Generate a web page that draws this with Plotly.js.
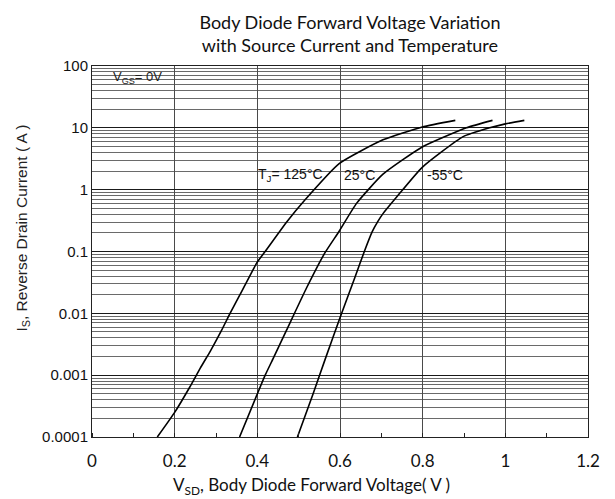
<!DOCTYPE html>
<html>
<head>
<meta charset="utf-8">
<script src="https://cdn.plot.ly/plotly-3.0.1.min.js"></script>
<style>html,body{margin:0;padding:0;background:#fff;}#chart{width:615px;height:499px;}</style>
</head>
<body>
<div id="chart"></div>
<script>
// Body diode forward voltage (V) vs source current (A), per junction temperature
const voltage125 = [0.158, 0.200, 0.237, 0.262, 0.287, 0.314, 0.334, 0.358, 0.399, 0.419, 0.471, 0.515, 0.598, 0.704, 0.799, 0.879];
const current125 = [0.0001, 0.00025, 0.00065, 0.0013, 0.0025, 0.0054, 0.010, 0.020, 0.066, 0.10, 0.30, 0.68, 2.64, 6.4, 10.3, 13.2];

const voltage25 = [0.357, 0.399, 0.419, 0.439, 0.471, 0.519, 0.563, 0.598, 0.640, 0.704, 0.799, 0.906, 0.969];
const current25 = [0.0001, 0.00048, 0.001, 0.0019, 0.0054, 0.0257, 0.094, 0.213, 0.60, 1.78, 4.9, 10, 13.2];

const voltageM55 = [0.497, 0.535, 0.564, 0.600, 0.636, 0.660, 0.678, 0.692, 0.704, 0.737, 0.799, 0.898, 0.962, 1.000, 1.046];
const currentM55 = [0.0001, 0.0005, 0.0018, 0.0085, 0.038, 0.105, 0.21, 0.31, 0.41, 0.76, 2.3, 7.2, 10, 11.6, 13.2];

const xTickVals = [0, 0.2, 0.4, 0.6, 0.8, 1, 1.2];
const xTickText = ['0', '0.2', '0.4', '0.6', '0.8', '1', '1.2'];
const yTickVals = [0.0001, 0.001, 0.01, 0.1, 1, 10, 100];
const yTickText = ['0.0001', '0.001', '0.01', '0.1', '1', '10', '100'];

const curveLabels = ['T<sub>J</sub>= 125°C', '25°C', '-55°C'];
const labelVoltages = [0.397, 0.604, 0.805];
const labelCurrent = 1.72;

const lineStyle = {color: '#000', width: 1.6, shape: 'spline', smoothing: 0.5};
const traces = [
  {x: voltage125, y: current125, name: '125°C', mode: 'lines', line: lineStyle},
  {x: voltage25, y: current25, name: '25°C', mode: 'lines', line: lineStyle},
  {x: voltageM55, y: currentM55, name: '-55°C', mode: 'lines', line: lineStyle}
];

const annotations = curveLabels.map((t, i) => ({
  text: t, x: labelVoltages[i], y: Math.log10(labelCurrent), xref: 'x', yref: 'y',
  xanchor: 'left', yanchor: 'middle', showarrow: false,
  font: {family: 'Liberation Sans, Arial, sans-serif', size: 14, color: '#111'}
}));
annotations.push({
  text: 'V<sub>GS</sub>= 0V', x: 0.047, y: Math.log10(64), xref: 'x', yref: 'y',
  xanchor: 'left', yanchor: 'middle', showarrow: false,
  font: {family: 'Liberation Sans, Arial, sans-serif', size: 13, color: '#222'}
});
annotations.push({
  text: 'I<sub>S</sub>, Reverse Drain Current ( A )', textangle: -90,
  x: -0.141, y: 0.562, xref: 'paper', yref: 'paper', xanchor: 'center', yanchor: 'middle',
  showarrow: false, font: {family: 'Liberation Sans, Arial, sans-serif', size: 15.5, color: '#222'}
});
annotations.push({
  text: 'V<sub>SD</sub>, Body Diode Forward Voltage( V )',
  x: 0.4416, y: -0.132, xref: 'paper', yref: 'paper', xanchor: 'center', yanchor: 'middle',
  showarrow: false, font: {family: 'Lato, sans-serif', size: 17, color: '#111'}
});

const layout = {
  width: 615, height: 499,
  margin: {l: 92, r: 27, t: 66, b: 62},
  paper_bgcolor: '#fff', plot_bgcolor: '#fff',
  showlegend: false,
  title: {
    text: 'Body Diode Forward Voltage Variation<br>with Source Current and Temperature',
    x: 0.569, xanchor: 'center', xref: 'container',
    y: 0.942, yanchor: 'middle', yref: 'container',
    font: {family: 'Lato, sans-serif', size: 18, color: '#111'}
  },
  xaxis: {
    range: [0, 1.2], tickmode: 'array', tickvals: xTickVals, ticktext: xTickText,
    showgrid: true, gridcolor: '#4a4a4a', gridwidth: 1,
    zeroline: false, showline: true, mirror: true, linecolor: '#222', linewidth: 1,
    ticks: '', ticklabelstandoff: 9,
    tickfont: {family: 'Lato, sans-serif', size: 17, color: '#111'},
    minor: {dtick: 0.1, tick0: 0, ticks: 'inside', ticklen: 4, tickcolor: '#222', showgrid: false}
  },
  yaxis: {
    type: 'log', range: [-4, 2], tickmode: 'array', tickvals: yTickVals, ticktext: yTickText,
    showgrid: true, gridcolor: '#1a1a1a', gridwidth: 1,
    zeroline: false, showline: true, mirror: true, linecolor: '#222', linewidth: 1,
    ticks: '',
    tickfont: {family: 'Liberation Sans, Arial, sans-serif', size: 15, color: '#111'},
    minor: {dtick: 'D1', showgrid: true, gridcolor: '#6a6a6a', gridwidth: 1, ticks: ''}
  },
  annotations: annotations
};

Plotly.newPlot('chart', traces, layout, {staticPlot: true, displayModeBar: false});
</script>
</body>
</html>
